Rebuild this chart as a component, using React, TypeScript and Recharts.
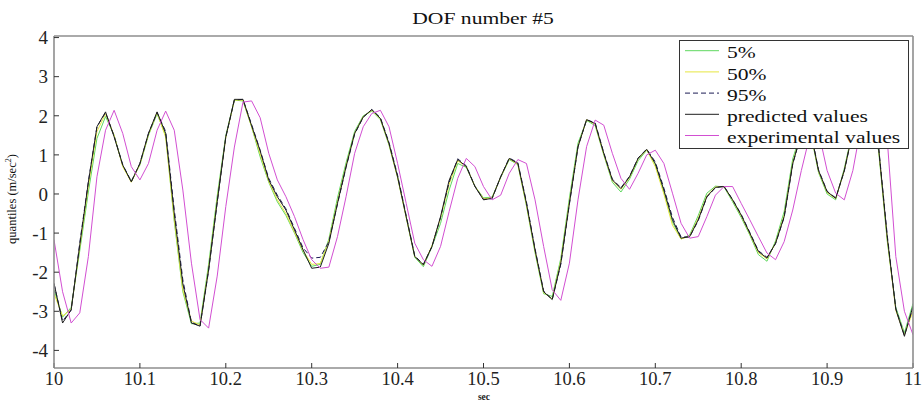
import React from 'react';
import { LineChart, Line, XAxis, YAxis, Legend } from 'recharts';

const TIMES = [
  10.0, 10.01, 10.02, 10.03, 10.04, 10.05, 10.06, 10.07, 10.08, 10.09,
  10.1, 10.11, 10.12, 10.13, 10.14, 10.15, 10.16, 10.17, 10.18, 10.19,
  10.2, 10.21, 10.22, 10.23, 10.24, 10.25, 10.26, 10.27, 10.28, 10.29,
  10.3, 10.31, 10.32, 10.33, 10.34, 10.35, 10.36, 10.37, 10.38, 10.39,
  10.4, 10.41, 10.42, 10.43, 10.44, 10.45, 10.46, 10.47, 10.48, 10.49,
  10.5, 10.51, 10.52, 10.53, 10.54, 10.55, 10.56, 10.57, 10.58, 10.59,
  10.6, 10.61, 10.62, 10.63, 10.64, 10.65, 10.66, 10.67, 10.68, 10.69,
  10.7, 10.71, 10.72, 10.73, 10.74, 10.75, 10.76, 10.77, 10.78, 10.79,
  10.8, 10.81, 10.82, 10.83, 10.84, 10.85, 10.86, 10.87, 10.88, 10.89,
  10.9, 10.91, 10.92, 10.93, 10.94, 10.95, 10.96, 10.97, 10.98, 10.99,
  11.0,
];

const Q5 = [
  -2.45, -3.15, -2.9, -1.45, 0.05, 1.42, 1.98, 1.5, 0.72, 0.32,
  0.74, 1.5, 2.05, 1.5, -0.7, -2.5, -3.32, -3.3, -1.8, -0.05,
  1.5, 2.4, 2.38, 1.72, 0.95, 0.3, -0.2, -0.55, -1.0, -1.5,
  -1.85, -1.8, -1.15, -0.1, 0.8, 1.6, 2.0, 2.12, 1.9, 1.25,
  0.42, -0.6, -1.62, -1.86, -1.35, -0.75, 0.1, 0.78, 0.68, 0.2,
  -0.1, -0.08, 0.42, 0.88, 0.75, -0.3, -1.5, -2.55, -2.62, -1.65,
  -0.1, 1.3, 1.88, 1.75, 1.0, 0.3, 0.05, 0.38, 0.85, 1.12,
  0.75, 0.05, -0.72, -1.15, -1.05, -0.55, 0.02, 0.2, 0.18, -0.2,
  -0.6, -1.05, -1.55, -1.72, -1.2, -0.45, 0.9, 1.6, 1.65, 0.55,
  0.0, -0.15, 0.65, 1.65, 2.2, 1.95, 1.1, -1.2, -2.9, -3.55,
  -2.8,
];

const Q50 = [
  -2.55, -3.12, -2.95, -1.35, 0.2, 1.6, 2.05, 1.5, 0.7, 0.3,
  0.76, 1.52, 2.08, 1.45, -0.65, -2.45, -3.25, -3.35, -1.9, -0.15,
  1.45, 2.4, 2.4, 1.72, 1.02, 0.32, -0.15, -0.5, -0.98, -1.45,
  -1.8, -1.78, -1.2, -0.2, 0.72, 1.55, 1.98, 2.14, 1.92, 1.27,
  0.42, -0.6, -1.6, -1.82, -1.32, -0.62, 0.25, 0.85, 0.7, 0.2,
  -0.12, -0.1, 0.43, 0.9, 0.76, -0.28, -1.46, -2.52, -2.68, -1.72,
  -0.2, 1.22, 1.9, 1.78, 1.02, 0.34, 0.12, 0.42, 0.9, 1.13,
  0.7, 0.0, -0.8, -1.15, -1.08, -0.62, -0.05, 0.18, 0.19, -0.16,
  -0.56, -1.02, -1.5, -1.66, -1.25, -0.55, 0.8, 1.56, 1.68, 0.58,
  0.04, -0.12, 0.6, 1.62, 2.2, 1.98, 1.15, -1.15, -2.98, -3.6,
  -3.0,
];

const Q95 = [
  -2.3, -3.25, -2.97, -1.25, 0.32, 1.72, 2.08, 1.48, 0.75, 0.32,
  0.78, 1.55, 2.08, 1.6, -0.4, -2.2, -3.28, -3.38, -1.96, -0.22,
  1.45, 2.4, 2.42, 1.78, 1.12, 0.4, -0.03, -0.38, -0.88, -1.38,
  -1.64, -1.62, -1.22, -0.26, 0.68, 1.53, 1.96, 2.16, 1.95, 1.32,
  0.48, -0.55, -1.58, -1.8, -1.35, -0.6, 0.3, 0.9, 0.72, 0.2,
  -0.14, -0.12, 0.44, 0.92, 0.8, -0.2, -1.4, -2.48, -2.7, -1.8,
  -0.26, 1.2, 1.9, 1.82, 1.06, 0.38, 0.16, 0.45, 0.92, 1.15,
  0.82, 0.15, -0.6, -1.1, -1.1, -0.68, -0.08, 0.16, 0.2, -0.14,
  -0.52, -0.98, -1.45, -1.62, -1.27, -0.6, 0.76, 1.55, 1.72, 0.62,
  0.07, -0.1, 0.58, 1.6, 2.2, 2.02, 1.2, -1.05, -2.93, -3.62,
  -2.9,
];

const PREDICTED = [
  -2.28, -3.3, -2.96, -1.3, 0.3, 1.72, 2.1, 1.46, 0.74, 0.31,
  0.78, 1.55, 2.1, 1.55, -0.5, -2.3, -3.3, -3.38, -1.94, -0.2,
  1.46, 2.42, 2.42, 1.75, 1.1, 0.36, -0.07, -0.41, -0.92, -1.43,
  -1.9, -1.87, -1.26, -0.24, 0.7, 1.55, 1.97, 2.16, 1.93, 1.29,
  0.44, -0.58, -1.6, -1.81, -1.34, -0.58, 0.35, 0.88, 0.7, 0.19,
  -0.15, -0.11, 0.44, 0.91, 0.78, -0.24, -1.43, -2.5, -2.7, -1.77,
  -0.24, 1.21, 1.9, 1.8, 1.04, 0.36, 0.14, 0.44, 0.91, 1.14,
  0.78, 0.1, -0.66, -1.13, -1.09, -0.66, -0.07, 0.17, 0.19, -0.15,
  -0.54, -1.0, -1.47, -1.64, -1.26, -0.58, 0.78, 1.55, 1.7, 0.6,
  0.06, -0.11, 0.6, 1.6, 2.2, 2.0, 1.17, -1.1, -2.95, -3.64,
  -2.87,
];

const EXPERIMENTAL = [
  -1.17, -2.5, -3.3, -3.04, -1.6, 0.44, 1.63, 2.14, 1.55, 0.7,
  0.36, 0.78, 1.63, 2.12, 1.63, 0.1, -1.77, -3.21, -3.43, -2.1,
  -0.32, 1.2, 2.35, 2.38, 1.95, 1.04, 0.36, -0.07, -0.58, -1.17,
  -1.68, -1.9, -1.87, -1.09, -0.07, 1.04, 1.72, 2.06, 2.14, 1.72,
  0.78, -0.24, -1.26, -1.68, -1.85, -1.34, -0.45, 0.4, 0.91, 0.7,
  0.19, -0.15, -0.03, 0.53, 0.88, 0.78, -0.15, -1.34, -2.45, -2.72,
  -1.77, -0.15, 1.21, 1.89, 1.76, 1.04, 0.4, 0.12, 0.53, 1.0,
  1.12, 0.78, 0.02, -0.75, -1.13, -1.09, -0.58, -0.03, 0.19, 0.19,
  -0.24, -0.66, -1.09, -1.51, -1.68, -1.22, -0.41, 0.6, 1.5, 1.6,
  0.6, 0.02, -0.15, 0.6, 1.8, 2.3, 2.1, 1.4, -1.6, -3.0,
  -3.6,
];

const X_TICKS = [10, 10.1, 10.2, 10.3, 10.4, 10.5, 10.6, 10.7, 10.8, 10.9, 11];
const Y_TICKS = [-4, -3, -2, -1, 0, 1, 2, 3, 4];

const SERIES = [
  { key: 'q5', name: '5%', color: '#5fd85f', dash: undefined as string | undefined },
  { key: 'q50', name: '50%', color: '#e6e640', dash: undefined as string | undefined },
  { key: 'q95', name: '95%', color: '#1c1c55', dash: '5 3' },
  { key: 'pred', name: 'predicted values', color: '#1e1e1e', dash: undefined as string | undefined },
  { key: 'exp', name: 'experimental values', color: '#d24fd2', dash: undefined as string | undefined },
];

const data = TIMES.map((t, i) => ({
  t,
  q5: Q5[i],
  q50: Q50[i],
  q95: Q95[i],
  pred: PREDICTED[i],
  exp: EXPERIMENTAL[i],
}));

const FONT = '"Liberation Serif", "Times New Roman", serif';
const FRAME = '#8e8e8e';
const TICK = { stroke: '#333', strokeWidth: 1 };

const fmtX = (v: number) => (Number.isInteger(v) ? String(v) : v.toFixed(1));

const LegendBox = () => (
  <svg width={230} height={109} style={{ display: 'block' }}>
    <rect x={0.5} y={0.5} width={229} height={108} fill="#fff" stroke="#333" strokeWidth={1} />
    {SERIES.map((s, i) => {
      const ly = 10.7 + 21.2 * i;
      const by = 18.4 + 21.2 * i;
      return (
        <g key={s.key}>
          <line x1={6} x2={40} y1={ly} y2={ly} stroke={s.color} strokeWidth={1} strokeDasharray={s.dash} />
          <g transform={`translate(48,${by}) scale(1.35,1)`}>
            <text x={0} y={0} fontFamily={FONT} fontSize={16} fill="#111">
              {s.name}
            </text>
          </g>
        </g>
      );
    })}
  </svg>
);

export default function App() {
  return (
    <div style={{ position: 'relative', width: 924, height: 403, background: '#fff' }}>
      <style>{'body{margin:0;background:#fff}'}</style>
      <LineChart
        width={924}
        height={403}
        data={data}
        margin={{ top: 35, right: 10, bottom: 34, left: 53 }}
      >
        <XAxis
          dataKey="t"
          type="number"
          domain={[10, 11]}
          ticks={X_TICKS}
          interval={0}
          allowDataOverflow
          height={1}
          tickSize={-5}
          tickMargin={9}
          tickFormatter={fmtX}
          axisLine={{ stroke: FRAME, strokeWidth: 1.6 }}
          tickLine={TICK}
          tick={{ fontFamily: FONT, fontSize: 18.5, fill: '#222' }}
        />
        <XAxis
          xAxisId="top"
          orientation="top"
          dataKey="t"
          type="number"
          domain={[10, 11]}
          ticks={X_TICKS}
          interval={0}
          height={1}
          tickSize={-5}
          axisLine={{ stroke: FRAME, strokeWidth: 1.6 }}
          tickLine={TICK}
          tick={false}
        />
        <YAxis
          type="number"
          domain={[-4.45, 4.04]}
          ticks={Y_TICKS}
          interval={0}
          allowDataOverflow
          width={1}
          tickSize={-5}
          tickMargin={11}
          axisLine={{ stroke: FRAME, strokeWidth: 1.6 }}
          tickLine={TICK}
          tick={{ fontFamily: FONT, fontSize: 19, fill: '#222' }}
        />
        <YAxis
          yAxisId="right"
          orientation="right"
          type="number"
          domain={[-4.45, 4.04]}
          ticks={Y_TICKS}
          interval={0}
          width={1}
          tickSize={-5}
          axisLine={{ stroke: FRAME, strokeWidth: 1.6 }}
          tickLine={TICK}
          tick={false}
        />
        {SERIES.map((s) => (
          <Line
            key={s.key}
            dataKey={s.key}
            name={s.name}
            type="linear"
            stroke={s.color}
            strokeWidth={1}
            strokeDasharray={s.dash}
            dot={false}
            activeDot={false}
            isAnimationActive={false}
          />
        ))}
        <Legend
          layout="vertical"
          align="center"
          verticalAlign="middle"
          content={() => <LegendBox />}
          wrapperStyle={{ position: 'absolute', left: 679, top: 40, width: 230, height: 109, margin: 0 }}
        />
      </LineChart>
      <svg
        width={924}
        height={403}
        style={{ position: 'absolute', left: 0, top: 0, pointerEvents: 'none' }}
      >
        <g transform="translate(483,24) scale(1.27,1)">
          <text x={0} y={0} textAnchor="middle" fontFamily={FONT} fontSize={17} fill="#111">
            DOF number #5
          </text>
        </g>
        <text
          transform="translate(16,199) rotate(-90)"
          textAnchor="middle"
          fontFamily={FONT}
          fontSize={12.5}
          fill="#111"
        >
          quantiles (m/sec
          <tspan fontSize={8} dy={-5}>2</tspan>
          <tspan dy={5}>)</tspan>
        </text>
        <text x={484} y={400} textAnchor="middle" fontFamily={FONT} fontSize={9.5} fontWeight="bold" fill="#222">
          sec
        </text>
      </svg>
    </div>
  );
}
